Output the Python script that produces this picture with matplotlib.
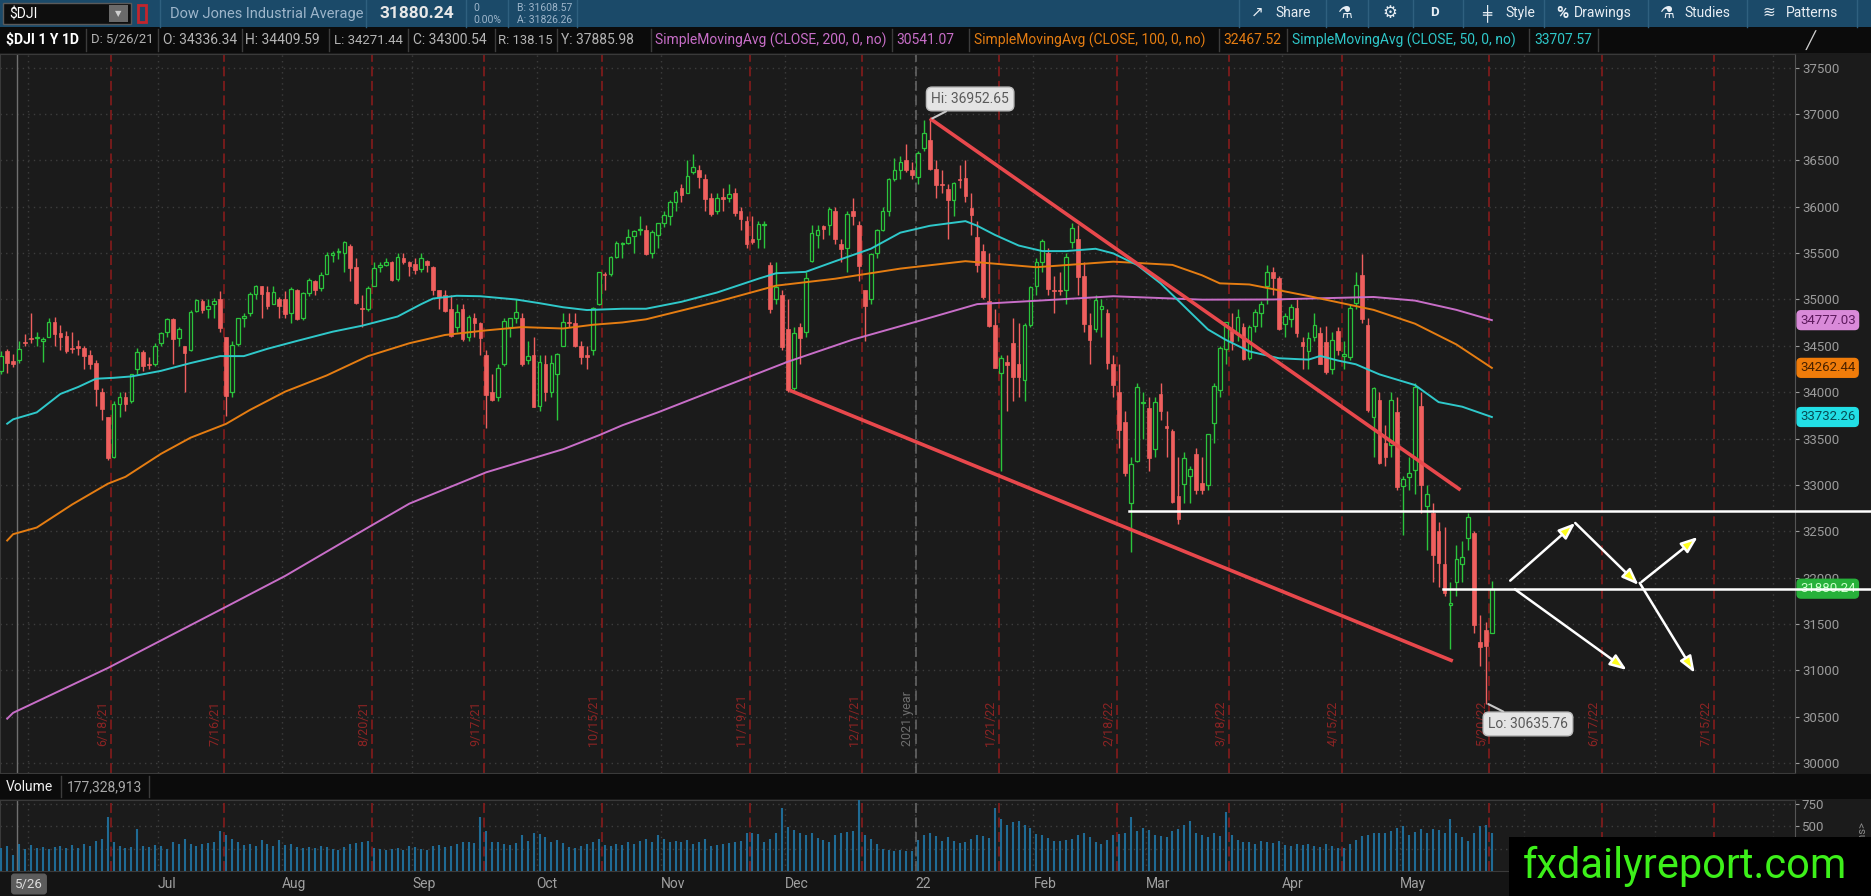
import numpy as np
import pandas as pd
import matplotlib
matplotlib.use('Agg')
import matplotlib.pyplot as plt
import matplotlib.transforms as mtransforms
from matplotlib.patches import Rectangle
from matplotlib.lines import Line2D

plt.rcParams['font.family'] = ['Roboto', 'DejaVu Sans']

W, H = 1871, 896

# trading calendar (the platform did not skip 2022-06-20 in the future area)
holidays = ['2021-05-31', '2021-07-05', '2021-09-06', '2021-11-25', '2021-12-24',
            '2022-01-17', '2022-02-21', '2022-04-15', '2022-05-30', '2022-07-04']

# daily bars 2021-05-24 .. 2022-05-23
opens = [
    34230, 34440, 34336, 34344, 34540,
    34584, 34580, 34550, 34600, 34760, 34640, 34610, 34480, 34490, 34480, 34400, 34320, 34000, 33730, 33300, 33870, 33950, 33900, 34250, 34430, 34300, 34300,
    34530, 34650, 34790, 34580, 34500, 34450, 34880, 34980, 34900, 34950, 35000, 34600, 34000, 34520, 34800, 34850, 35060, 35140, 35080, 34950, 35000,
    35000, 34850, 35100, 34800, 35070, 35200, 35120, 35280, 35480, 35510, 35500, 35580, 35350, 34900, 34900, 35150, 35350, 35370, 35400, 35220, 35450, 35400,
    35380, 35330, 35420, 35350, 35100, 35050, 34900, 34700, 34900, 34600, 34800, 34750, 34400, 34000, 33950, 34300, 34700, 34800, 34800, 34350, 34400,
    33850, 34300, 34000, 34200, 34500, 34760, 34750, 34500, 34400, 34450, 34950, 35280, 35270, 35460, 35600, 35610, 35680, 35750, 35750, 35500, 35700,
    35830, 35900, 36050, 36200, 36150, 36380, 36400, 36300, 36100, 35950, 36100, 36100, 36150, 35950, 35850, 35650, 35650, 35800, 35370, 35000, 35050,
    34680, 34050, 34700, 34650, 35420, 35700, 35790, 35800, 35950, 35600, 35550, 35950, 35800, 35100, 35000, 35500, 35750, 35950, 36300, 36400, 36500, 36400,
    36320, 36636, 36720, 36410, 36250, 36190, 36070, 36300, 36310, 35990, 35670, 35520, 34980, 34720, 34205, 34330, 34530, 34300, 34130, 34727,
    35150, 35400, 35500, 35100, 35100, 35100, 35620, 35650, 35250, 34727, 34680, 34900, 34850, 34300, 34000, 33680, 32800, 33260, 33880,
    33830, 33385, 33980, 33640, 33580, 32880, 33010, 33100, 33335, 33020, 33000, 33670, 34020, 34465, 34660, 34640, 34700, 34370, 34714, 34850, 35140, 35296, 35236,
    34739, 34789, 34913, 34540, 34440, 34600, 34640, 34540, 34250, 34665, 34390, 34380, 34960, 35260, 34730, 33730, 33915, 33450, 33430, 33790,
    32990, 33085, 33160, 33851, 32770, 32700, 32500, 32150, 31700, 31950, 32150, 32430, 32481, 31300, 31430, 31402,
]
highs = [
    34440, 34470, 34410, 34550, 34631,
    34849, 34650, 34600, 34800, 34811, 34720, 34660, 34650, 34560, 34500, 34450, 34350, 34050, 33735, 33900, 34000, 34000, 34200, 34480, 34460, 34380, 34530,
    34650, 34800, 34800, 34700, 34500, 34890, 35000, 35000, 35000, 35020, 35090, 34600, 34550, 34800, 34850, 35080, 35160, 35150, 35150, 35150, 35030,
    35090, 35130, 35110, 35080, 35230, 35210, 35300, 35510, 35520, 35560, 35630, 35600, 35450, 35050, 35150, 35400, 35400, 35450, 35420, 35500, 35500, 35410,
    35450, 35500, 35430, 35360, 35100, 35100, 35050, 34950, 34950, 34830, 34850, 34760, 34450, 34200, 34300, 34800, 34800, 35000, 34850, 34550, 34600,
    34400, 34400, 34400, 34420, 34850, 34850, 34850, 34550, 34500, 34920, 35300, 35300, 35470, 35630, 35620, 35760, 35750, 35900, 35800, 35750, 35830,
    35950, 36070, 36180, 36250, 36500, 36565, 36450, 36350, 36150, 36150, 36200, 36250, 36200, 36000, 35900, 35900, 35850, 35850, 35400, 35400, 35100,
    35000, 34700, 34750, 35300, 35800, 35800, 35800, 36000, 36000, 35650, 35950, 36100, 35850, 35100, 35500, 35760, 36000, 36310, 36530, 36550, 36680, 36480,
    36600, 36935, 36952.65, 36500, 36400, 36250, 36270, 36450, 36500, 36150, 35850, 35600, 35500, 34900, 34400, 34400, 34800, 34750, 34750, 35150,
    35450, 35650, 35550, 35250, 35300, 35500, 35825, 35800, 35400, 34850, 35050, 35000, 34900, 34400, 34300, 33800, 33300, 34100, 34000,
    33950, 33950, 34100, 33800, 33600, 33300, 33350, 33200, 33400, 33300, 33550, 34100, 34500, 34760, 34850, 34900, 34750, 34720, 34900, 34980, 35372, 35350, 35250,
    34850, 34950, 35000, 34600, 34650, 34850, 34700, 34714, 34650, 34700, 34550, 34950, 35300, 35492, 34800, 34060, 34000, 33650, 34000, 33950,
    33100, 33300, 34100, 34000, 33000, 32800, 32600, 32550, 31950, 32350, 32400, 32700, 32500, 31600, 31520, 31960,
]
lows = [
    34200, 34212, 34271, 34320, 34500,
    34528, 34500, 34330, 34590, 34500, 34450, 34420, 34420, 34400, 34250, 34250, 33850, 33700, 33271, 33290, 33730, 33800, 33880, 34200, 34230, 34250, 34280,
    34500, 34600, 34300, 34500, 34000, 34440, 34860, 34850, 34800, 34800, 34650, 33741, 33950, 34500, 34700, 34820, 35000, 34800, 34900, 34950, 34800,
    34800, 34750, 34780, 34780, 35040, 35050, 35090, 35270, 35400, 35440, 35300, 35200, 34950, 34700, 34880, 35150, 35300, 35360, 35200, 35200, 35380, 35250,
    35280, 35300, 35300, 35050, 34900, 34870, 34600, 34650, 34550, 34550, 34600, 34400, 33613, 33900, 33900, 34280, 34600, 34750, 34280, 34300, 33840,
    33800, 33900, 33950, 33700, 34500, 34700, 34490, 34300, 34250, 34400, 34940, 35100, 35250, 35450, 35450, 35600, 35500, 35700, 35480, 35450, 35550,
    35780, 35800, 35950, 36050, 36150, 36350, 36200, 35950, 35900, 35920, 35950, 36050, 35900, 35750, 35550, 35600, 35550, 35550, 34850, 34950, 34450,
    34006, 34000, 34300, 34600, 35400, 35550, 35650, 35700, 35600, 35400, 35300, 35800, 35200, 34550, 34950, 35450, 35740, 35900, 36280, 36300, 36380, 36300,
    36250, 36600, 36400, 36100, 36150, 35650, 35900, 36200, 36050, 35700, 35300, 35000, 34700, 34260, 33150, 33800, 33900, 33950, 33900, 34700,
    35050, 35300, 35050, 34850, 35050, 34950, 35550, 35050, 34650, 34300, 34650, 34600, 34250, 33950, 33400, 33100, 32273, 33250, 33500,
    33150, 33300, 33700, 33300, 32800, 32578, 32800, 32800, 32900, 32900, 32950, 33450, 33950, 34300, 34450, 34550, 34350, 34350, 34650, 34700, 34950, 35050, 34670,
    34600, 34700, 34600, 34250, 34250, 34550, 34300, 34200, 34200, 34400, 34250, 34350, 34900, 34750, 33786, 33300, 33230, 33200, 33300, 32950,
    32462, 32950, 32900, 32700, 32300, 31950, 31900, 31800, 31230, 31800, 31950, 32300, 31400, 31050, 30635.76, 31400,
]
closes = [
    34394, 34313, 34301, 34465, 34529,
    34575, 34600, 34577, 34756, 34630, 34600, 34447, 34466, 34480, 34394, 34299, 34033, 33823, 33290, 33876, 33945, 33874, 34196, 34433, 34283, 34292, 34503,
    34634, 34786, 34577, 34681, 34422, 34870, 34996, 34889, 34933, 34987, 34688, 33962, 34512, 34798, 34823, 35062, 35144, 35059, 34931, 35085, 34935,
    34838, 35117, 34793, 35065, 35209, 35102, 35265, 35485, 35500, 35516, 35625, 35343, 34961, 34894, 35120, 35336, 35367, 35406, 35214, 35456, 35400, 35361,
    35313, 35444, 35369, 35100, 35031, 34879, 34608, 34870, 34578, 34814, 34751, 34584, 33970, 33920, 34258, 34765, 34798, 34870, 34300, 34390, 33844,
    34326, 34003, 34315, 34417, 34755, 34746, 34496, 34378, 34377, 34912, 35295, 35259, 35458, 35609, 35603, 35677, 35741, 35757, 35490, 35731, 35820,
    35913, 36053, 36158, 36124, 36328, 36432, 36320, 36080, 35921, 36100, 36087, 36143, 35931, 35871, 35602, 35620, 35814, 35804, 34899, 35136, 34484,
    34022, 34640, 34580, 35227, 35720, 35754, 35755, 35971, 35650, 35545, 35927, 35898, 35365, 34932, 35493, 35754, 35951, 36302, 36398, 36488, 36398, 36338,
    36585, 36800, 36408, 36236, 36231, 36068, 36252, 36290, 36114, 35912, 35369, 35029, 34715, 34265, 34365, 34298, 34168, 34160, 34725, 35132,
    35405, 35629, 35111, 35090, 35091, 35463, 35768, 35241, 34738, 34566, 34989, 34935, 34312, 34079, 33597, 33132, 33224, 34059, 33893,
    33295, 33891, 33795, 33615, 32818, 32633, 33286, 33174, 32945, 32945, 33545, 34063, 34481, 34755, 34553, 34808, 34359, 34708, 34862, 34956, 35294, 35229, 34678,
    34818, 34922, 34641, 34497, 34584, 34721, 34308, 34220, 34564, 34451, 34411, 34912, 35161, 34793, 33811, 34049, 33240, 33302, 33916, 32977,
    33061, 33129, 34061, 32998, 32899, 32246, 32161, 31834, 31730, 32197, 32223, 32655, 31490, 31253, 31262, 31880.24,
]
volumes = [  # millions
    260, 280, 177, 300, 250,
    290, 260, 270, 250, 270, 280, 260, 290, 260, 300, 280, 340, 360, 600, 330, 280, 260, 270, 470, 280, 270, 290,
    280, 250, 330, 300, 360, 300, 280, 300, 310, 330, 450, 400, 360, 320, 290, 300, 280, 350, 300, 280, 350,
    290, 300, 270, 260, 270, 260, 280, 270, 250, 240, 270, 300, 310, 320, 340, 260, 250, 240, 250, 260, 230, 280,
    270, 250, 230, 280, 290, 270, 280, 300, 320, 330, 310, 600, 450, 330, 320, 300, 290, 310, 400, 340, 430,
    410, 380, 330, 350, 310, 270, 260, 280, 300, 330, 360, 290, 280, 300, 290, 320, 300, 340, 360, 330, 400,
    360, 330, 340, 320, 350, 300, 330, 360, 280, 290, 300, 310, 320, 340, 430, 420, 410, 330, 360, 430, 700,
    490, 460, 430, 400, 420, 370, 350, 330, 400, 420, 440, 450, 790, 400, 360, 300, 250, 230, 220, 230, 220, 220,
    350, 400, 430, 390, 340, 380, 340, 310, 330, 360, 400, 390, 370, 700, 580, 520, 550, 560, 520, 480,
    410, 400, 370, 340, 340, 350, 360, 400, 420, 380, 320, 300, 350, 400, 410, 420, 610, 450, 480,
    460, 400, 390, 380, 450, 470, 520, 560, 430, 400, 380, 420, 390, 660, 400, 350, 330, 320, 300, 340, 330, 310, 340,
    290, 280, 300, 290, 300, 280, 270, 300, 280, 260, 260, 300, 350, 390, 400, 420, 430, 420, 450, 480,
    500, 400, 440, 470, 430, 470, 460, 430, 580, 430, 380, 340, 420, 500, 510, 430,
]

# moving averages (bar number, value)
sma200_bar = [1, 2, 18, 38, 48, 62, 69, 82, 95, 101, 105, 111, 121, 133, 144, 155, 165, 176, 188, 203, 215, 232, 239, 246, 252]
sma200_val = [30478, 30541, 31024, 31685, 32018, 32540, 32798, 33136, 33385, 33534, 33643, 33782, 34031, 34329, 34568,
              34766, 34950, 34990, 35035, 34998, 35000, 35027, 34988, 34888, 34777]
sma100_bar = [1, 2, 6, 12, 18, 21, 27, 32, 38, 42, 48, 55, 62, 69, 75, 82, 88, 95, 100, 105, 109, 121, 131, 141, 152,
              163, 175, 188, 198, 203, 206, 211, 221, 232, 239, 246, 252]
sma100_val = [32400, 32468, 32540, 32789, 33012, 33087, 33335, 33509, 33658, 33807, 34006, 34180, 34389, 34528, 34617,
              34667, 34702, 34687, 34727, 34752, 34786, 34975, 35149, 35224, 35333, 35413, 35348, 35408, 35373, 35261,
              35174, 35162, 35037, 34888, 34739, 34515, 34262]
sma50_bar = [1, 2, 6, 10, 13, 16, 19, 22, 27, 32, 37, 41, 45, 50, 56, 61, 67, 71, 73, 77, 81, 87, 91, 95, 99, 105, 109,
             115, 121, 128, 131, 136, 141, 147, 152, 157, 163, 165, 168, 172, 176, 180, 185, 188, 192, 196, 200, 204,
             207, 211, 216, 221, 223, 226, 229, 233, 239, 243, 247, 252]
sma50_val = [33660, 33707, 33782, 33981, 34056, 34145, 34155, 34170, 34230, 34314, 34389, 34389, 34468, 34553, 34652,
             34717, 34816, 34950, 35010, 35040, 35035, 35000, 34960, 34916, 34886, 34900, 34900, 34975, 35075, 35224,
             35283, 35298, 35413, 35547, 35721, 35795, 35845, 35795, 35696, 35582, 35522, 35522, 35547, 35497, 35373,
             35174, 34925, 34677, 34565, 34440, 34366, 34351, 34391, 34341, 34301, 34192, 34077, 33893, 33843, 33732]
sma_last = [34777.03, 34262.44, 33732.26]

expirations = ['2021-06-18', '2021-07-16', '2021-08-20', '2021-09-17', '2021-10-15', '2021-11-19', '2021-12-17',
               '2022-01-21', '2022-02-18', '2022-03-18', '2022-04-15', '2022-05-20', '2022-06-17', '2022-07-15']
exp_labels = ['6/18/21', '7/16/21', '8/20/21', '9/17/21', '10/15/21', '11/19/21', '12/17/21',
              '1/21/22', '2/18/22', '3/18/22', '4/15/22', '5/20/22', '6/17/22', '7/15/22']

# drawings (bar number, price)
wedge_top = ([157.0, 246.7], [36952.65, 32945])
wedge_bottom = ([133.3, 245.4], [34020, 31100])
resistance = (190.7, 32718)
last_close = (243.8, 31880.24)
arrows = [
    (255.1, 31967, 266.1, 32589),
    (266.1, 32589, 276.8, 31920),
    (277.3, 31953, 286.8, 32438),
    (277.0, 31942, 286.3, 30971),
    (255.9, 31874, 274.8, 31003),
]
hi_bar, hi_val = 157, 36952.65
lo_bar, lo_val = 251, 30635.76

# ---------------------------------------------------------------
n = min(map(len, [opens, highs, lows, closes, volumes]))
o = np.array(opens[:n], float)
h = np.array(highs[:n], float)
l = np.array(lows[:n], float)
c = np.array(closes[:n], float)
v = np.array(volumes[:n], float)
x = np.arange(n)

days = pd.bdate_range('2021-05-24', '2022-08-31')
days = days[~days.isin(pd.to_datetime(holidays))]
month_first = [i for i in range(1, len(days)) if days[i].month != days[i - 1].month]
month_x = np.array(month_first) - 0.5
# June sits under the cursor date box, future months under the watermark
month_lab = [('' if (i >= n or k == 0) else '22' if days[i].month == 1 else days[i].strftime('%b'))
             for k, i in enumerate(month_first)]

def line_pos(d):
    return np.searchsorted(days, pd.Timestamp(d) + pd.Timedelta(days=1)) - 0.4

bg = '#1b1b1b'
green, red = '#2bc43c', '#ef5f5e'
c200, c100, c50 = '#c86ec8', '#e57d12', '#2fc8ca'

fig = plt.figure(figsize=(W / 100, H / 100), dpi=100, facecolor=bg)

def px_text(px, py, s, **kw):
    return fig.text(px / W, 1 - py / H, s, **kw)

def px_rect(x0, y0, x1, y1, **kw):
    fig.add_artist(Rectangle((x0 / W, 1 - y1 / H), (x1 - x0) / W, (y1 - y0) / H,
                             transform=fig.transFigure, **kw))

def px_vline(px, y0, y1, **kw):
    fig.add_artist(Line2D([px / W, px / W], [1 - y0 / H, 1 - y1 / H], transform=fig.transFigure, **kw))

ax = fig.add_axes([0, 1 - 773 / H, 1795 / W, (773 - 54) / H], facecolor=bg)
axv = fig.add_axes([0, 1 - 871 / H, 1795 / W, (871 - 800) / H], facecolor=bg, sharex=ax)
ax.set_xlim(-0.215, 303.25)
ax.set_ylim(29892, 37648)
axv.set_ylim(0, 795)

for a in (ax, axv):
    for s in a.spines.values():
        s.set_color('#3a3a3a')
    a.spines['right'].set_color('#555555')
    a.grid(True, color='#3d3d3d', linestyle=(0, (1, 3)), linewidth=1)
    a.set_axisbelow(True)
    a.yaxis.tick_right()

axv.set_xticks(month_x, month_lab)
for t in axv.get_xticklabels():
    t.set_horizontalalignment('left')
ax.tick_params(axis='x', length=0, labelbottom=False)
axv.tick_params(axis='x', length=0, colors='#a0a0a0', labelsize=10, pad=4)
ax.set_yticks(np.arange(30000, 37501, 500))
ax.tick_params(axis='y', colors='#9c9c9c', labelsize=9.5, length=3, pad=2)
axv.set_yticks([250, 500, 750])
axv.tick_params(axis='y', colors='#9c9c9c', labelsize=9.5, length=3, pad=2)

# expiration lines
for d, lab in zip(expirations, exp_labels):
    xe = line_pos(d)
    for a in (ax, axv):
        a.axvline(xe, color='#8e1c1c', lw=1.1, linestyle=(0, (6.5, 3)), zorder=1)
    ax.text(xe - 0.3, 30185, lab, rotation=90, ha='right', va='bottom', fontsize=9,
            color='#8c2424', zorder=2)
xy = line_pos('2021-12-31')
for a in (ax, axv):
    a.axvline(xy, color='#6a6a6a', lw=1.1, linestyle=(0, (6.5, 3)), zorder=1)
ax.text(xy - 0.3, 30185, '2021 year', rotation=90, ha='right', va='bottom', fontsize=9,
        color='#6e6e6e', zorder=2)

# cursor
for a in (ax, axv):
    a.axvline(2.71, color='#707070', lw=1, zorder=2)

# candles
up = c >= o
ax.vlines(x, l, h, colors=np.where(up, green, red), linewidth=1, zorder=3)
body_lo = np.minimum(o, c)
body_h = np.maximum(np.abs(c - o), 14)
ax.bar(x[up], body_h[up], bottom=body_lo[up], width=0.62, facecolor=bg, edgecolor=green,
       linewidth=0.9, zorder=4)
ax.bar(x[~up], body_h[~up], bottom=body_lo[~up], width=0.62, facecolor=red, edgecolor=red,
       linewidth=0.5, zorder=4)

# moving averages
ax.plot(sma200_bar, sma200_val, color=c200, lw=1.4, zorder=5)
ax.plot(sma100_bar, sma100_val, color=c100, lw=1.4, zorder=5)
ax.plot(sma50_bar, sma50_val, color=c50, lw=1.4, zorder=5)

# wedge
ax.plot(*wedge_top, color='#e8484c', lw=2.6, zorder=6, solid_capstyle='butt')
ax.plot(*wedge_bottom, color='#e8484c', lw=2.6, zorder=6, solid_capstyle='butt')

# horizontal levels running through the price scale
x_edge = ax.transData.inverted().transform((W, 0))[0]
for x0, lvl in (resistance, last_close):
    ax.plot([x0, x_edge], [lvl, lvl], color='white', lw=1.8, zorder=10, clip_on=False)

for x0, y0, x1, y1 in arrows:
    ax.annotate('', xy=(x1, y1), xytext=(x0, y0), zorder=11,
                arrowprops=dict(arrowstyle='-|>,head_length=1.0,head_width=0.38', lw=1.8,
                                facecolor='#ffff1e', edgecolor='white', shrinkA=0, shrinkB=0))

bubble = dict(boxstyle='round,pad=0.35,rounding_size=0.4', fc='#e4e4e4', ec='#bcbcbc', lw=1)
ax.annotate(f'Hi: {hi_val:.2f}', xy=(hi_bar + 0.4, hi_val), xytext=(163.8, 37163), ha='center', va='center',
            fontsize=10, color='#5a5a5a', bbox=bubble, zorder=12,
            arrowprops=dict(arrowstyle='-', color='#c8c8c8', lw=1.5, shrinkA=0, shrinkB=0))
ax.annotate(f'Lo: {lo_val:.2f}', xy=(lo_bar + 0.4, lo_val), xytext=(258.1, 30421), ha='center', va='center',
            fontsize=10, color='#5a5a5a', bbox=bubble, zorder=12,
            arrowprops=dict(arrowstyle='-', color='#c8c8c8', lw=1.5, shrinkA=0, shrinkB=0))

# value flags on the price scale
trans = mtransforms.blended_transform_factory(ax.transAxes, ax.transData)
flags = [(sma_last[0], '#d98ad9', '#5e1a5e'), (sma_last[1], '#f07c0a', '#4a2200'),
         (sma_last[2], '#22dfe6', '#064c55'), (closes[-1], '#27b13a', '#c9ffc9')]
for val, fc, tc in flags:
    ax.text(1 + 5 / 1795, val, f'{val:.2f}', transform=trans, ha='left', va='center', fontsize=9.5,
            color=tc, clip_on=False, zorder=8,
            bbox=dict(boxstyle='round,pad=0.22,rounding_size=0.3', fc=fc, ec=fc))

# volume
axv.vlines(x, 0, v, colors='#1f6b95', linewidth=1.5, zorder=3)

# ---- frame: toolbar, header rows, time row ----
renderer = fig.canvas.get_renderer()

def fit(t, maxw):
    w = t.get_window_extent(renderer).width
    if w > maxw:
        t.set_fontsize(t.get_fontsize() * maxw / w)

px_rect(0, 871, W, H, fc='#141414', ec='none', zorder=-1)
px_rect(0, 0, W, 27, fc='#1b4a69', ec='none', zorder=1)
px_rect(0, 27, W, 53, fc='#0b0b0b', ec='none', zorder=1)
px_rect(0, 774, W, 799, fc='#0b0b0b', ec='none', zorder=1)

# toolbar
px_rect(3, 3, 131, 24, fc='#0e0e0e', ec='#5a5a5a', lw=1, zorder=2)
px_text(9, 14, '$DJI', color='white', fontsize=10, va='center', zorder=3)
px_rect(109, 5, 128, 22, fc='#6a6a6a', ec='none', zorder=3)
px_text(118.5, 14, '▼', color='#d0d0d0', fontsize=6, va='center', ha='center', zorder=4)
px_rect(138, 5, 146, 22, fc='none', ec='#c3262d', lw=2, zorder=3)
px_text(170, 14, 'Dow Jones Industrial Average', color='#9db5ca', fontsize=10.5, va='center', zorder=3)
px_text(379, 14, '31880.24', color='#e8e8e8', fontsize=12.5, fontweight='bold', va='center', zorder=3)
px_text(473, 8, '0', color='#9db5ca', fontsize=7.5, va='center', zorder=3)
px_text(473, 20, '0.00%', color='#9db5ca', fontsize=7.5, va='center', zorder=3)
px_text(517, 8, 'B: 31608.57', color='#9db5ca', fontsize=7.5, va='center', zorder=3)
px_text(517, 20, 'A: 31826.26', color='#9db5ca', fontsize=7.5, va='center', zorder=3)
for sx in (160, 366, 466, 508, 577):
    px_vline(sx, 0, 27, color='#2f607f', lw=1, zorder=2)
tool = [(1251, '↗', 11), (1275, 'Share', 10), (1338, '⚗', 12), (1382, '⚙', 12), (1430, 'D', 9.5),
        (1482, '╪', 11), (1505, 'Style', 10), (1556, '%', 12), (1574, 'Drawings', 10),
        (1660, '⚗', 12), (1684, 'Studies', 10), (1762, '≋', 11), (1786, 'Patterns', 10)]
for tx, s, fs in tool:
    px_text(tx, 13, s, color='#e8eef4', fontsize=fs, va='center', zorder=3,
            fontweight='bold' if s in ('D', '%') else 'normal')
for sx in (1239, 1326, 1368, 1413, 1463, 1544, 1648, 1747, 1857):
    px_vline(sx, 0, 27, color='#2f607f', lw=1, zorder=2)

# study header row
header = [(6, 86, '$DJI 1 Y 1D', '#ffffff', 'bold'),
          (91, 158, 'D: 5/26/21', '#b4b4b4', 'normal'),
          (163, 242, 'O: 34336.34', '#b4b4b4', 'normal'),
          (245, 329, 'H: 34409.59', '#b4b4b4', 'normal'),
          (334, 408, 'L: 34271.44', '#b4b4b4', 'normal'),
          (413, 495, 'C: 34300.54', '#b4b4b4', 'normal'),
          (498, 557, 'R: 138.15', '#b4b4b4', 'normal'),
          (561, 651, 'Y: 37885.98', '#b4b4b4', 'normal'),
          (655, 892, 'SimpleMovingAvg (CLOSE, 200, 0, no)', c200, 'normal'),
          (896, 969, '30541.07', c200, 'normal'),
          (974, 1219, 'SimpleMovingAvg (CLOSE, 100, 0, no)', c100, 'normal'),
          (1223, 1287, '32467.52', c100, 'normal'),
          (1292, 1529, 'SimpleMovingAvg (CLOSE, 50, 0, no)', c50, 'normal'),
          (1534, 1598, '33707.57', c50, 'normal')]
for x0, x1, s, col, wt in header:
    t = px_text(x0, 40, s, color=col, fontsize=10, fontweight=wt, va='center', zorder=3)
    fit(t, x1 - x0 - 5)
    px_vline(x1, 29, 51, color='#3c3c3c', lw=1, zorder=2)
px_text(1811, 40, '╱', color='#d0d0d0', fontsize=12, va='center', ha='center', zorder=3)

# volume header row
px_text(6, 787, 'Volume', color='#f0f0f0', fontsize=10, va='center', zorder=3)
px_vline(61, 776, 797, color='#3c3c3c', lw=1, zorder=2)
px_text(67, 787, '177,328,913', color='#a8a8a8', fontsize=10, va='center', zorder=3)
px_vline(149, 776, 797, color='#3c3c3c', lw=1, zorder=2)
px_text(1862, 835, 'ions>', color='#8c8c8c', fontsize=8, rotation=90, va='center', ha='center', zorder=3)

# cursor date on the time scale
px_text(29, 884, '5/26', color='#dedede', fontsize=9.5, va='center', ha='center', zorder=5,
        bbox=dict(boxstyle='round,pad=0.25,rounding_size=0.2', fc='#5c5c5c', ec='#5c5c5c'))

# watermark
px_rect(1509, 837, W, H, fc='black', ec='none', zorder=20)
wm = px_text(1685, 866, 'fxdailyreport.com', color='#3df01a', fontsize=34, va='center', ha='center',
             zorder=21, family=['Liberation Sans Narrow', 'Roboto', 'DejaVu Sans'])
fit(wm, 325)

fig.savefig('out.png', dpi=100, facecolor=fig.get_facecolor())
